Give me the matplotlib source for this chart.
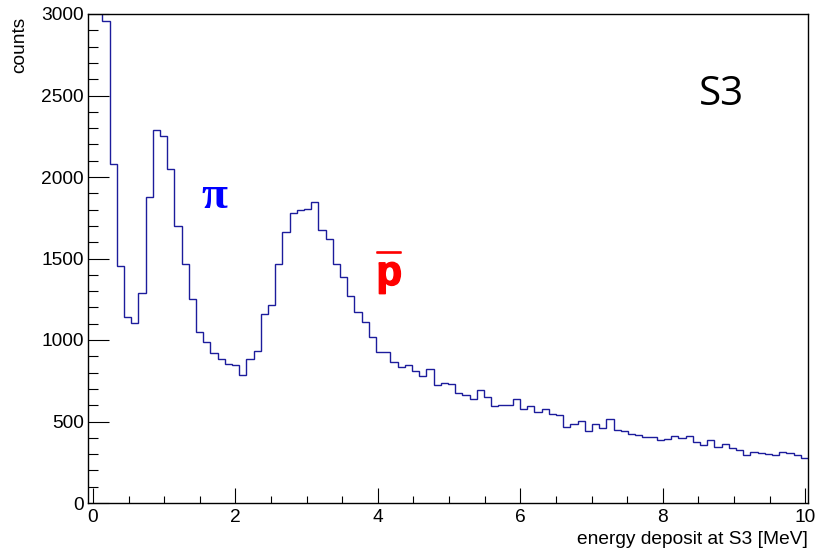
import numpy as np
import matplotlib
matplotlib.use("Agg")
import matplotlib.pyplot as plt
import matplotlib.patheffects as pe
from matplotlib.ticker import MultipleLocator

# histogram: 100 equal bins spanning the whole x axis (first two bins run off the top)
x_lo, x_hi = -0.07, 10.04
counts = [3500, 3300, 2959, 2080, 1452, 1139, 1106, 1286, 1879, 2290,
          2254, 2049, 1701, 1466, 1252, 1047, 990, 918, 883, 853,
          849, 787, 885, 935, 1161, 1213, 1464, 1661, 1781, 1798,
          1804, 1847, 1673, 1622, 1466, 1389, 1270, 1170, 1110, 1020,
          926, 924, 863, 832, 849, 812, 781, 822, 726, 738,
          728, 677, 663, 638, 691, 652, 593, 603, 601, 638,
          577, 597, 558, 579, 546, 540, 468, 487, 501, 440,
          487, 462, 517, 446, 440, 425, 419, 405, 407, 388,
          391, 413, 397, 409, 374, 358, 388, 344, 360, 336,
          325, 296, 313, 309, 301, 294, 315, 305, 293, 274]

xticks = [0, 2, 4, 6, 8, 10]
yticks = [0, 500, 1000, 1500, 2000, 2500, 3000]

plt.rcParams['font.family'] = ['Liberation Sans', 'DejaVu Sans']

fig = plt.figure(figsize=(8.18, 5.53), dpi=100)
ax = fig.add_axes([88/818, 1-503/553, 720/818, 489/553])

edges = np.linspace(x_lo, x_hi, len(counts)+1)
ax.stairs(counts, edges, baseline=None, color='#1c1c9c', linewidth=1.0)

ax.set_xlim(x_lo, x_hi)
ax.set_ylim(0, 3000)
ax.set_xticks(xticks)
ax.set_yticks(yticks)
ax.xaxis.set_minor_locator(MultipleLocator(0.5))
ax.yaxis.set_minor_locator(MultipleLocator(100))
ax.tick_params(axis='y', which='major', direction='in', length=15, width=0.8, pad=3, labelsize=13.8)
ax.tick_params(axis='y', which='minor', direction='in', length=7.5, width=0.8)
ax.tick_params(axis='x', which='major', direction='in', length=10.5, width=0.8, pad=4.5, labelsize=13.8)
ax.tick_params(axis='x', which='minor', direction='in', length=5.3, width=0.8)
for s in ax.spines.values():
    s.set_linewidth(1.0)

fig.text(20/818, 1-17/553, 'counts', rotation=90, ha='center', va='top', fontsize=13.8)
fig.text(808/818, 1-540/553, 'energy deposit at S3 [MeV]', ha='right', va='center', fontsize=13.8)

ax.text(1.71, 1810, '\u03c0', color='#0000ff', fontsize=34, fontweight='bold',
        family='Liberation Serif', ha='center', va='baseline')
# antiproton label: one text, macron stacked over the p (negative spacing pulls it down)
ax.text(4.16, 1338, '\u00af\np', color='#ff0000', fontsize=30, fontweight='bold',
        ha='center', va='baseline', linespacing=-0.23, multialignment='center',
        path_effects=[pe.withStroke(linewidth=1.2, foreground='#ff0000')])
ax.text(8.83, 2440, 'S3', color='black', fontsize=29, family='Open Sans',
        ha='center', va='baseline')

fig.savefig('out.png', dpi=100)
